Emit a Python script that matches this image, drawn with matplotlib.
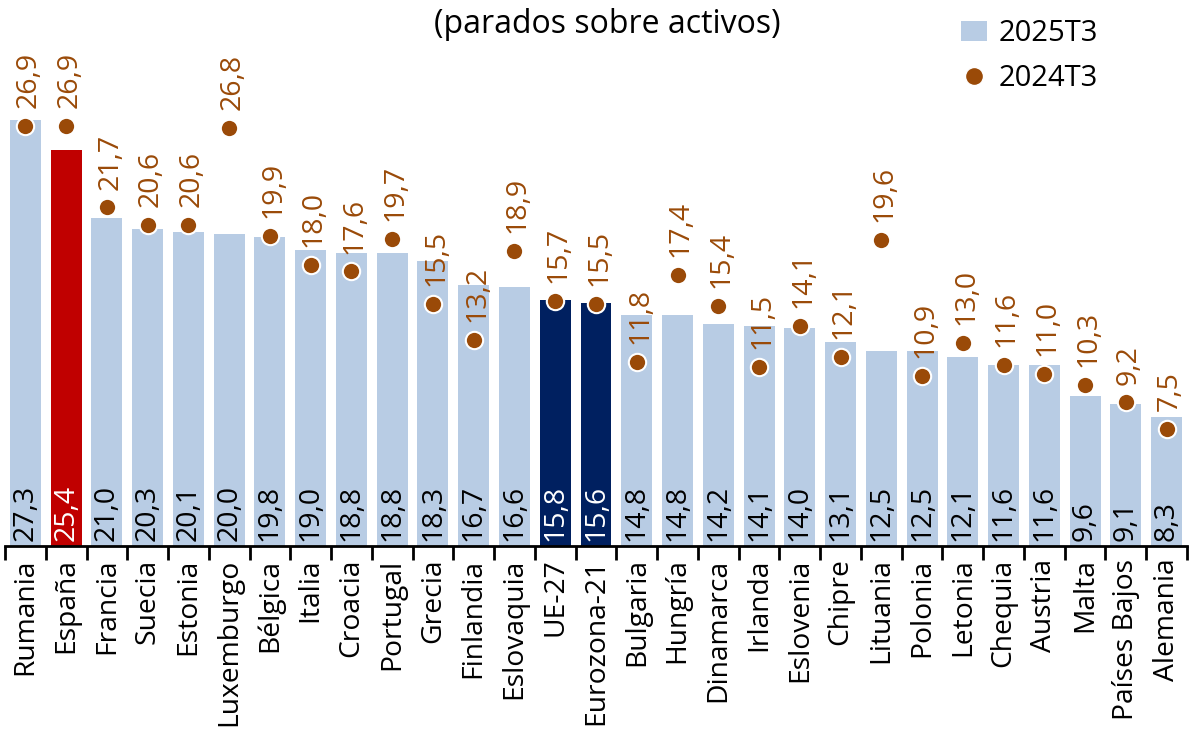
import matplotlib
matplotlib.use("Agg")
import matplotlib.pyplot as plt
from matplotlib.patches import Patch
from matplotlib.lines import Line2D
import numpy as np

plt.rcParams['font.family'] = ['Open Sans', 'DejaVu Sans']

paises = ["Rumania", "España", "Francia", "Suecia", "Estonia", "Luxemburgo",
          "Bélgica", "Italia", "Croacia", "Portugal", "Grecia", "Finlandia",
          "Eslovaquia", "UE-27", "Eurozona-21", "Bulgaria", "Hungría",
          "Dinamarca", "Irlanda", "Eslovenia", "Chipre", "Lituania", "Polonia",
          "Letonia", "Chequia", "Austria", "Malta", "Países Bajos", "Alemania"]
t3_2025 = [27.3, 25.4, 21.0, 20.3, 20.1, 20.0, 19.8, 19.0, 18.8, 18.8, 18.3,
           16.7, 16.6, 15.8, 15.6, 14.8, 14.8, 14.2, 14.1, 14.0, 13.1, 12.5,
           12.5, 12.1, 11.6, 11.6, 9.6, 9.1, 8.3]
t3_2024 = [26.9, 26.9, 21.7, 20.6, 20.6, 26.8, 19.9, 18.0, 17.6, 19.7, 15.5,
           13.2, 18.9, 15.7, 15.5, 11.8, 17.4, 15.4, 11.5, 14.1, 12.1, 19.6,
           10.9, 13.0, 11.6, 11.0, 10.3, 9.2, 7.5]

azul = "#B8CCE4"
rojo = "#C00000"
marino = "#002060"
marron = "#9A4A08"

def coma(v):
    return f"{v:.1f}".replace(".", ",")

colores = []
for p in paises:
    if p == "España":
        colores.append(rojo)
    elif p in ("UE-27", "Eurozona-21"):
        colores.append(marino)
    else:
        colores.append(azul)

fig = plt.figure(figsize=(11.91, 7.29), dpi=100)
ax = fig.add_axes([5 / 1191, 183 / 729, 1182 / 1191, 546 / 729])

x = np.arange(len(paises))
ax.bar(x, t3_2025, width=0.76, color=colores, zorder=1)
ax.plot(x, t3_2024, linestyle="none", marker="o", markersize=12.5,
        markerfacecolor=marron, markeredgecolor="white", markeredgewidth=1.5,
        zorder=3)

for xi, v, c in zip(x, t3_2025, colores):
    tc = "white" if c != azul else "black"
    ax.text(xi, 0.35, coma(v), rotation=90, ha="center", va="bottom",
            fontsize=20.5, color=tc, zorder=4)

for xi, v in zip(x, t3_2024):
    ax.text(xi + 0.08, v + 1.15, coma(v), rotation=90, ha="center",
            va="bottom", fontsize=20.5, color=marron, zorder=4)

ax.set_xlim(-0.5, len(paises) - 0.5)
ax.set_ylim(0, 35)
ax.set_yticks([])
for s in ("left", "right", "top"):
    ax.spines[s].set_visible(False)
ax.spines["bottom"].set_linewidth(2)

# ticks sit between the bars, labels under each bar
ax.set_xticks(np.arange(len(paises) + 1) - 0.5)
ax.set_xticklabels([])
ax.tick_params(axis="x", which="major", direction="out", length=10, width=2)
ax.set_xticks(x, minor=True)
ax.set_xticklabels(paises, minor=True, rotation=90, fontsize=20.3)
ax.tick_params(axis="x", which="minor", length=0, pad=9)

fig.text(0.51, 0.966, "(parados sobre activos)", ha="center", va="center",
         fontsize=23)

handles = [Patch(facecolor=azul, edgecolor="none"),
           Line2D([], [], linestyle="none", marker="o", markersize=13,
                  markerfacecolor=marron, markeredgecolor="white")]
fig.legend(handles, ["2025T3", "2024T3"], loc="upper left",
           bbox_to_anchor=(0.785, 1.01), frameon=False, fontsize=21,
           handlelength=0.9, handletextpad=0.4, labelspacing=0.55)

fig.savefig("out.png", dpi=100)
